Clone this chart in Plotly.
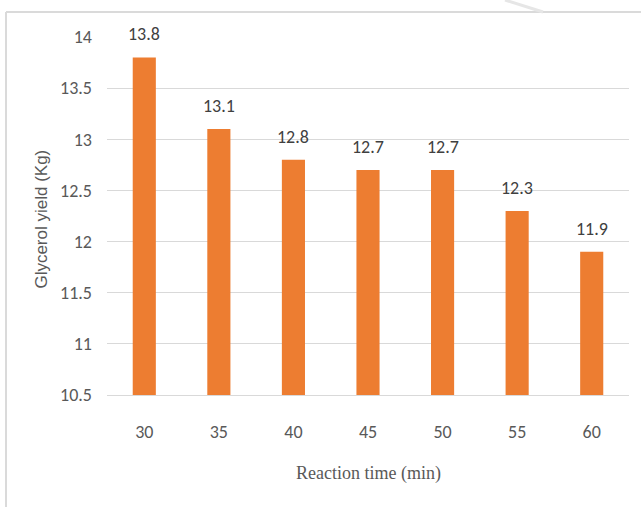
import plotly.graph_objects as go

# Glycerol yield versus reaction time
reaction_time = ["30", "35", "40", "45", "50", "55", "60"]
glycerol_yield = [13.8, 13.1, 12.8, 12.7, 12.7, 12.3, 11.9]
y_ticks = [10.5, 11, 11.5, 12, 12.5, 13, 13.5, 14]
y_tick_text = ["10.5", "11", "11.5", "12", "12.5", "13", "13.5", "14"]

BAR_COLOR = "#ED7D31"
TICK_COLOR = "#595959"
LABEL_COLOR = "#404040"
GRID_COLOR = "#D9D9D9"
SANS = "Carlito, Calibri, Lato, sans-serif"

fig = go.Figure()
fig.add_trace(go.Bar(
    x=reaction_time,
    y=glycerol_yield,
    marker=dict(color=BAR_COLOR, line=dict(width=0)),
    width=0.31,
    hoverinfo="x+y",
))

# value labels above each bar (x given as category index)
for i, v in enumerate(glycerol_yield):
    fig.add_annotation(
        x=i, y=v, xref="x", yref="y",
        text=f"{v:g}", showarrow=False,
        yanchor="bottom", yshift=10,
        font=dict(family=SANS, size=18, color=LABEL_COLOR),
    )

# axis titles
fig.add_annotation(
    x=0.5, y=-0.218, xref="paper", yref="paper",
    text="Reaction time (min)", showarrow=False,
    xanchor="center", yanchor="middle",
    font=dict(family="Liberation Serif, Times New Roman, serif", size=18, color=TICK_COLOR),
)
fig.add_annotation(
    x=-0.1245, y=0.49, xref="paper", yref="paper",
    text="Glycerol yield (Kg)", showarrow=False, textangle=-90,
    xanchor="center", yanchor="middle",
    font=dict(family="Liberation Sans, Arial, sans-serif", size=17, color=TICK_COLOR),
)

# frame lines along the left and top edges
fig.add_shape(type="line", xref="paper", yref="paper",
              x0=-0.1935, x1=-0.1935, y0=1.0698, y1=-0.33,
              line=dict(color="#DADADA", width=2))
fig.add_shape(type="line", xref="paper", yref="paper",
              x0=-0.1935, x1=1.05, y0=1.0698, y1=1.0698,
              line=dict(color="#DADADA", width=2))
fig.add_shape(type="line", xref="paper", yref="paper",
              x0=(505 - 107) / 522, x1=(543 - 107) / 522,
              y0=(395 - 0) / 358, y1=(395 - 12) / 358,
              line=dict(color="#E6E6E6", width=3))

fig.update_layout(
    width=641, height=507,
    margin=dict(l=107, r=12, t=37, b=112),
    paper_bgcolor="white", plot_bgcolor="white",
    showlegend=False,
    xaxis=dict(
        type="category",
        categoryorder="array", categoryarray=reaction_time,
        range=[-0.5, len(reaction_time) - 0.5],
        showgrid=False, zeroline=False,
        showline=True, linecolor=GRID_COLOR, linewidth=1,
        ticks="", ticklabelstandoff=20,
        tickfont=dict(family=SANS, size=18, color=TICK_COLOR),
    ),
    yaxis=dict(
        range=[10.5, 14],
        tickvals=y_ticks, ticktext=y_tick_text,
        showgrid=True, gridcolor=GRID_COLOR, gridwidth=1,
        zeroline=False, showline=False,
        ticks="", ticklabelstandoff=14,
        tickfont=dict(family=SANS, size=18, color=TICK_COLOR),
    ),
)

fig.write_html("out.html")
